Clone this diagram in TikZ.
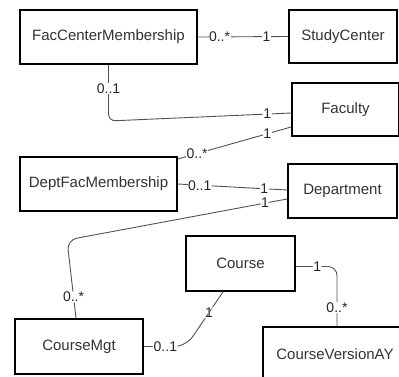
\documentclass[tikz,border=0pt]{standalone}
\usepackage{fontspec}
\setmainfont{Liberation Sans}
\begin{document}
\begin{tikzpicture}[x=1pt,y=-1pt,
  box/.style={draw=black, line width=1.8pt, fill=white, inner sep=0pt,
    font=\fontsize{15}{17}\selectfont, text=black!80},
  conn/.style={draw=black!68, line width=0.9pt},
  lbl/.style={fill=white, inner sep=0.5pt, font=\fontsize{14}{15}\selectfont, text=black!85}]
\useasboundingbox (0,0) rectangle (399,376);
\clip (0,0) rectangle (399,376);

\node[box, minimum width=177pt, minimum height=54pt] (fcm) at (108.5,37) {FacCenterMembership};
\node[box, minimum width=108pt, minimum height=53pt] (sc) at (343,36.5) {StudyCenter};
\node[box, minimum width=107pt, minimum height=53pt] (fac) at (345.5,109.5) {Faculty};
\node[box, minimum width=157pt, minimum height=54pt] (dfm) at (98.5,184) {DeptFacMembership};
\node[box, minimum width=109pt, minimum height=54pt] (dept) at (342.5,191) {Department};
\node[box, minimum width=109pt, minimum height=55pt] (course) at (240.5,263.5) {Course};
\node[box, minimum width=128pt, minimum height=55pt] (cmgt) at (79,346.5) {CourseMgt};
\node[box, minimum width=144pt, minimum height=55pt] (cva) at (335,354.5) {CourseVersionAY};

\coordinate (k2) at (108.5,121);
\coordinate (k5) at (67,240);
\coordinate (k6) at (186,346.5);
\coordinate (k7) at (337,266.5);

% FacCenterMembership -- StudyCenter
\draw[conn] (fcm.east) -- node[lbl,pos=0.24]{0..*} node[lbl,pos=0.76]{1} (sc.west);
% FacCenterMembership -- Faculty
\draw[conn, rounded corners=7pt] (fcm.south) -- node[lbl,pos=0.42]{0..1} (k2)
  -- node[lbl,pos=0.87]{1} ([yshift=-3.5pt]fac.west);
% DeptFacMembership -- Faculty
\draw[conn] ([yshift=25pt]dfm.east) -- node[lbl,pos=0.17]{0..*} node[lbl,pos=0.79]{1} ([yshift=-17.5pt]fac.west);
% DeptFacMembership -- Department
\draw[conn] (dfm.east) -- node[lbl,pos=0.2]{0..1} node[lbl,pos=0.79]{1} ([yshift=1pt]dept.west);
% Department -- CourseMgt
\draw[conn, rounded corners=10pt] ([yshift=-8pt]dept.west) -- node[lbl,pos=0.1]{1} (k5)
  -- node[lbl,pos=0.73]{0..*} ([xshift=-3pt]cmgt.north);
% CourseMgt -- Course
\draw[conn, rounded corners=12pt] (cmgt.east) -- node[lbl,pos=0.51]{0..1} (k6)
  -- node[lbl,pos=0.62]{1} ([xshift=-17.5pt]course.south);
% Course -- CourseVersionAY
\draw[conn, rounded corners=9pt] ([yshift=-3pt]course.east) -- node[lbl,pos=0.52]{1} (k7)
  -- node[lbl,pos=0.69]{0..*} ([xshift=2pt]cva.north);
\end{tikzpicture}
\end{document}
